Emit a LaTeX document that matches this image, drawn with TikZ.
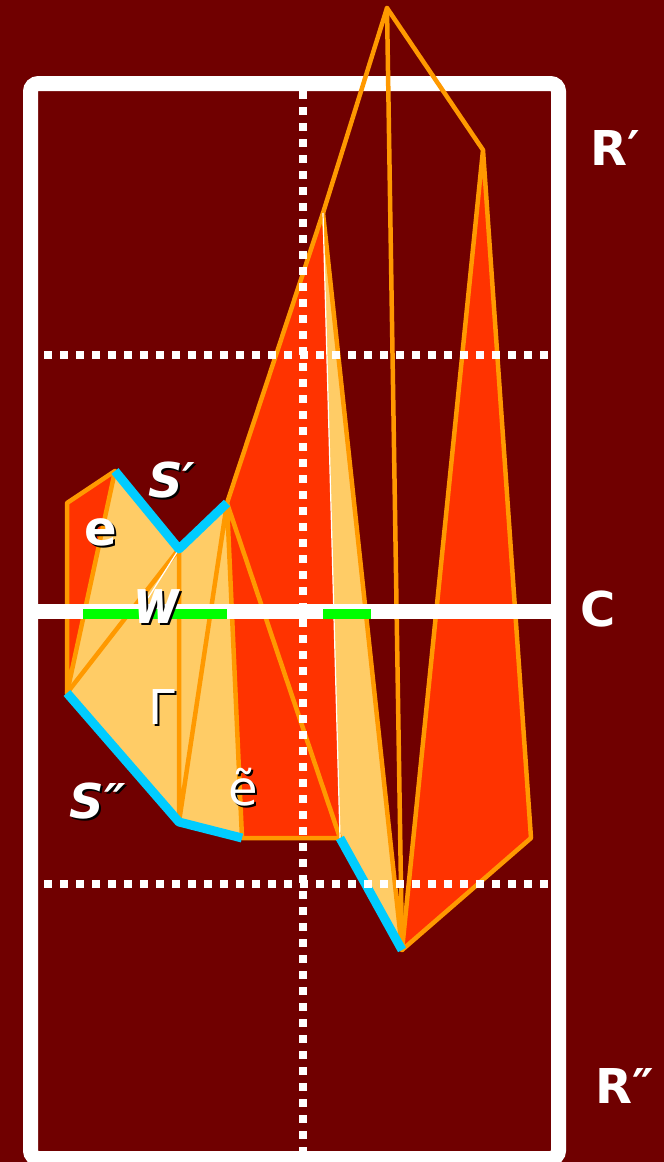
\documentclass[tikz,border=0pt]{standalone}
\usepackage{fontspec}
\setmainfont{DejaVu Sans}
\usetikzlibrary{calc}
\definecolor{bgred}{RGB}{112,0,0}
\definecolor{patchred}{RGB}{255,51,0}
\definecolor{patchyellow}{RGB}{255,204,102}
\definecolor{edgeorange}{RGB}{255,153,0}
\definecolor{seamcyan}{RGB}{0,204,255}
\definecolor{cutgreen}{RGB}{0,255,0}

\tikzset{
  edge/.style={draw=edgeorange, line width=4.5pt, line join=round, line cap=round},
  seam/.style={draw=seamcyan, line width=9pt, line join=round},
  dotline/.style={white, line width=8pt, dash pattern=on 8pt off 8pt},
  hairline/.style={white, line width=1.2pt},
  lbl/.style={text=white, inner sep=0pt, font=\fontsize{48}{48}\selectfont\bfseries},
  lblit/.style={lbl, font=\fontsize{48}{48}\selectfont\bfseries\itshape},
  lblw/.style={lbl, xscale=0.82, font=\fontsize{62}{62}\selectfont\bfseries\itshape},
  lblrm/.style={text=white, inner sep=0pt, font=\fontsize{48}{48}\selectfont},
  shadow/.style={text=black}
}

\begin{document}
\begin{tikzpicture}[x=1pt, y=-1pt]

  %% background and frame
  \fill[bgred] (0,0) rectangle (664,1162);
  \useasboundingbox (0,0) rectangle (664,1162);
  \clip (0,0) rectangle (664,1162);
  \draw[white, line width=15pt, rounded corners=8pt] (30.5,83.5) rectangle (558.5,1158.5);

  %% vertices
  \coordinate (A) at (67,503);
  \coordinate (B) at (115,471);
  \coordinate (D) at (179,549);
  \coordinate (E) at (227,503);
  \coordinate (F) at (67,693);
  \coordinate (G) at (179,822);
  \coordinate (H) at (242,838);
  \coordinate (I) at (340,838);
  \coordinate (J) at (402,950);
  \coordinate (K) at (323,213);
  \coordinate (L) at (387,8);
  \coordinate (M) at (483,150);
  \coordinate (N) at (531,838);
  \coordinate (Wend) at (148,598);

  %% patches
  \fill[patchred] (A) -- (B) -- (F) -- cycle;
  \fill[patchyellow] (B) -- (D) -- (E) -- (H) -- (G) -- (F) -- cycle;
  \fill[patchred] (E) -- (K) -- (I) -- (H) -- cycle;
  \fill[patchyellow] (K) -- (J) -- (I) -- cycle;
  \fill[patchred] (M) -- (N) -- (J) -- cycle;

  %% triangle edges
  \draw[edge] (B) -- (A) -- (F) -- (B);
  \draw[edge] (F) -- (D) -- (G) -- (E) -- (H) -- (I) -- (E);
  \draw[edge] (E) -- (K) -- (L) -- (M) -- (N) -- (J) -- (M);
  \draw[edge] (L) -- (J) -- (K);
  \draw[hairline] (K) -- (I);
  \draw[hairline] (D) -- (Wend);

  %% seams
  \draw[seam] (B) -- (D) -- (E);
  \draw[seam] (F) -- (G) -- (H);
  \draw[seam] (I) -- (J);

  %% grid
  \draw[dotline] (303,91) -- (303,1151);
  \draw[dotline] (44,355) -- (548,355);
  \draw[dotline] (44,883.5) -- (548,883.5);

  %% cut C
  \draw[white, line width=15pt] (30,611.5) -- (558,611.5);
  \draw[cutgreen, line width=10pt] (83,614) -- (227,614);
  \draw[cutgreen, line width=10pt] (323,614) -- (371,614);

  %% labels
  \node[lblit, shadow] at (174,482) {S′};
  \node[lblit] (Sp) at (172,480) {S′};
  \node[lbl, shadow] at (103,534) {e};
  \node[lbl] (e) at (101,532) {e};
  \node[lblw, shadow] at (159,609) {w};
  \node[lblw] (w) at (157,607) {w};
  \node[lblrm, shadow] at (164,709) {Γ};
  \node[lblrm] (Gamma) at (162,707) {Γ};
  \node[lblrm, shadow] at (245,789) {ẽ};
  \node[lblrm] (et) at (243,787) {ẽ};
  \node[lblit, shadow] at (100,803) {S″};
  \node[lblit] (Spp) at (98,801) {S″};
  \node[lbl] (Rp) at (615,148) {R′};
  \node[lbl] (C) at (598,609) {C};
  \node[lbl] (Rpp) at (625,1086) {R″};
\end{tikzpicture}
\end{document}
